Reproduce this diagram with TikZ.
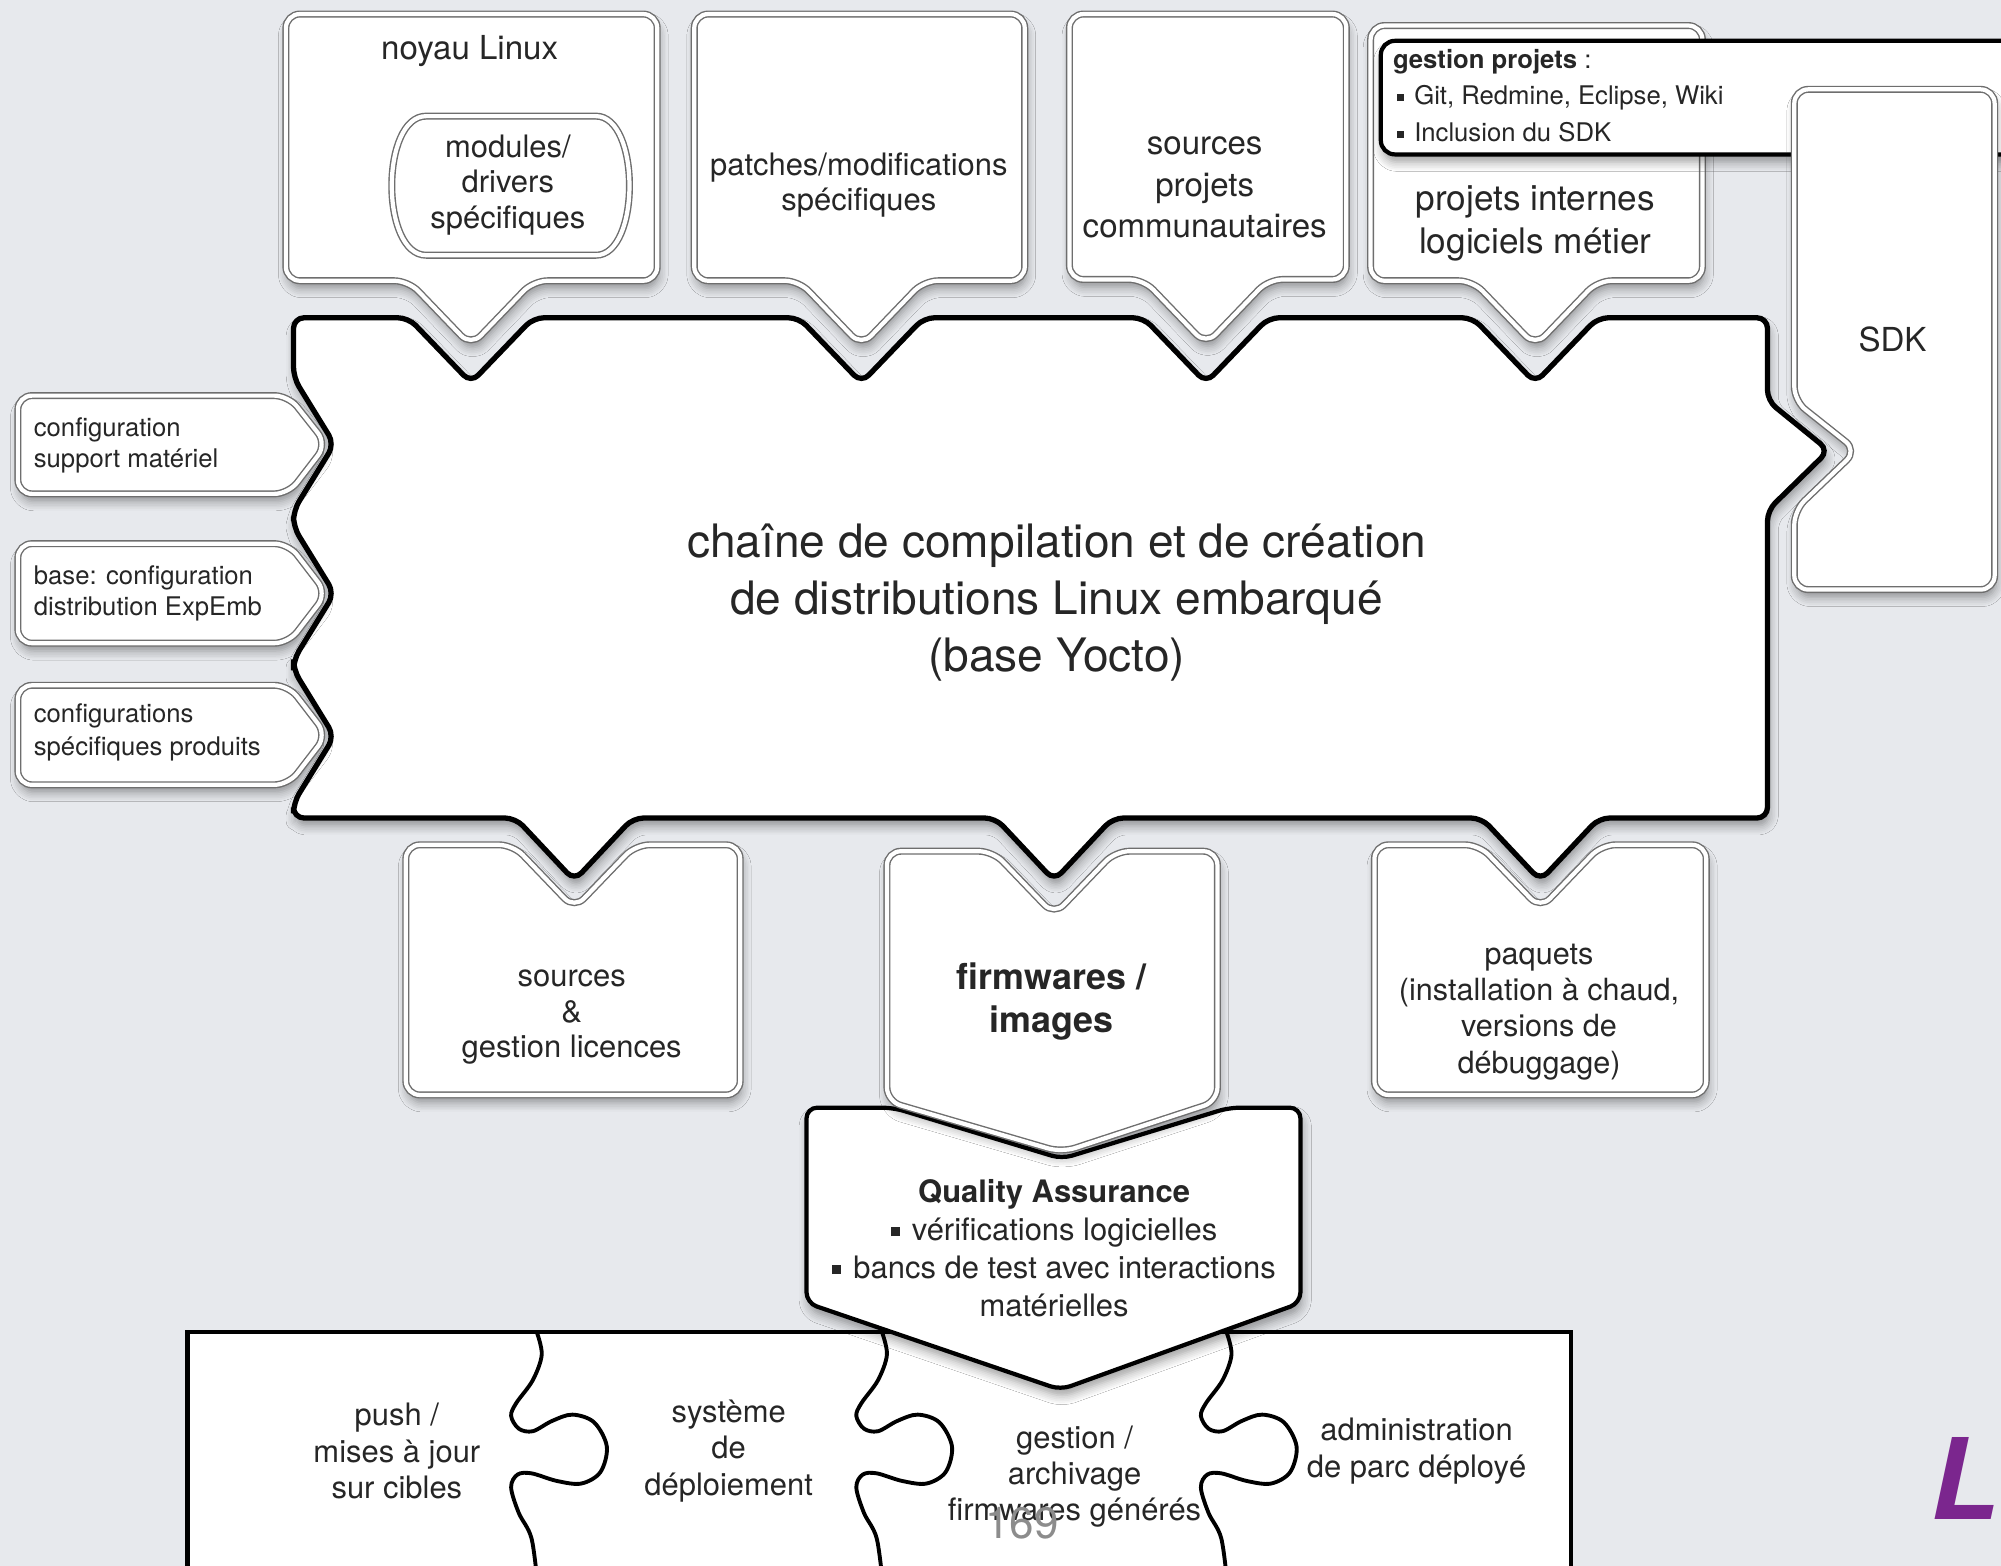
\documentclass[tikz,border=0pt]{standalone}
\usepackage{fontspec}
\setmainfont{TeX Gyre Heros}
\usetikzlibrary{shadows.blur}
\definecolor{bgpage}{RGB}{231,233,237}
\definecolor{rimgray}{RGB}{110,110,110}
\definecolor{slidepurple}{RGB}{123,38,142}
\newcommand{\sqbul}{\rule[0.14em]{0.28em}{0.28em}\hspace{0.4em}}
\newcommand{\fsz}[2]{\fontsize{#1}{#2}\selectfont}

\begin{document}
\begin{tikzpicture}[x=0.012762cm,y=-0.012762cm,
  softshadow/.style={blur shadow={shadow xshift=0.5pt,shadow yshift=-2.2pt,
      shadow blur radius=2.6pt,shadow blur steps=6,shadow opacity=38}},
  rim/.style={fill=white,draw=rimgray,line width=0.4pt,double=white,
      double distance=1.2pt,rounded corners=4pt},
  bubble/.style={rim,softshadow},
  hub/.style={fill=white,draw=black,line width=1.5pt,rounded corners=3pt,softshadow},
  inkbox/.style={fill=white,draw=black,line width=1.2pt,rounded corners=4pt,softshadow},
  puzline/.style={draw=black,line width=1.1pt,line join=round},
  lbl/.style={inner sep=0pt,align=center,text=black!85},
  lblw/.style={inner sep=0pt,align=left,anchor=west,text=black!85},
  puzzlecut/.pic={\draw[puzline] plot[smooth,tension=0.55] coordinates {
      (0,0) (4,18) (-3,38) (-16,56) (-20,66) (-14,76) (-3,78) (12,70) (28,65)
      (45,71) (55,90) (50,110) (35,119) (16,117) (-4,111) (-15,112) (-20,122)
      (-14,142) (-4,162) (1,200)};}
]
\useasboundingbox (0,0) rectangle (1568,1227);
\clip (0,0) rectangle (1568,1227);
\fill[bgpage] (0,0) rectangle (1568,1227);

% central build chain
\path[hub] (520,249) -- (626,249) -- (675,300) -- (724,249) -- (896,249) -- (945,300)
  -- (994,249) -- (1154,249) -- (1203,300) -- (1252,249) -- (1385,249) -- (1385,314)
  -- (1433,353) -- (1385,400) -- (1385,641) -- (1253,641) -- (1207,690) -- (1161,641)
  -- (872,641) -- (826,690) -- (780,641) -- (496,641) -- (450,690) -- (404,641)
  -- (230,641) -- (230,629) -- (262,577) -- (230,525) -- (230,517) -- (262,465)
  -- (230,413) -- (230,400) -- (262,348) -- (230,296) -- (230,249) -- (320,249)
  -- (369,300) -- (418,249) -- cycle;

% inputs on top
\path[bubble] (370,11) -- (515,11) -- (515,220) -- (418,220) -- (369,271) -- (320,220)
  -- (224,220) -- (224,11) -- cycle;
\path[rim,sharp corners] (334,91) -- (467,91) .. controls (502,91) and (502,200) .. (467,200)
  -- (334,200) .. controls (298,200) and (298,91) .. (334,91) -- cycle;
\path[bubble] (675,11) -- (803,11) -- (803,220) -- (724,220) -- (675,271) -- (626,220)
  -- (544,220) -- (544,11) -- cycle;
\path[bubble] (945,11) -- (1055,11) -- (1055,219) -- (994,219) -- (945,270) -- (896,219)
  -- (838,219) -- (838,11) -- cycle;
\path[bubble] (1203,20) -- (1334,20) -- (1334,220) -- (1252,220) -- (1203,271) -- (1154,220)
  -- (1074,220) -- (1074,20) -- cycle;

% project management and SDK
\path[inkbox] (1082,32) rectangle (1640,121);
\path[bubble] (1485,70) -- (1563,70) -- (1563,462) -- (1406,462) -- (1406,400) -- (1455,353)
  -- (1406,314) -- (1406,70) -- cycle;

% configuration inputs on the left
\path[bubble] (120,310) -- (226,310) -- (256,348) -- (226,387) -- (14,387) -- (14,310) -- cycle;
\path[bubble] (120,426) -- (226,426) -- (256,465) -- (226,504) -- (14,504) -- (14,426) -- cycle;
\path[bubble] (120,537) -- (226,537) -- (256,576) -- (226,615) -- (14,615) -- (14,537) -- cycle;

% outputs
\path[bubble] (350,662) -- (402,662) -- (450,712) -- (498,662) -- (580,662) -- (580,858)
  -- (318,858) -- (318,662) -- cycle;
\path[bubble] (1120,662) -- (1159,662) -- (1207,712) -- (1255,662) -- (1337,662) -- (1337,858)
  -- (1077,858) -- (1077,662) -- cycle;

% deployment puzzle
\path[fill=white,draw=black,line width=1.2pt] (147,1044) rectangle (1231,1262);
\pic at (420.5,1043.5) {puzzlecut};
\pic at (691,1043.5) {puzzlecut};
\pic at (961,1043.5) {puzzlecut};

% quality assurance and firmware images
\path[inkbox,rounded corners=3pt] (632,940) -- (632,868) -- (700,868) -- (832,908) -- (963,868)
  -- (1019,868) -- (1019,1021) -- (831,1089) -- (632,1021) -- cycle;
\path[bubble] (740,667) -- (778,667) -- (826,717) -- (874,667) -- (954,667) -- (954,863)
  -- (832,903) -- (695,863) -- (695,667) -- cycle;

% labels
\node[lbl,font=\fsz{9.4}{11}] (noyauT) at (368,40) {noyau Linux};
\node[lbl,font=\fsz{8.8}{10.2}] (modT) at (398,145) {modules/\\drivers\\spécifiques};
\node[lbl,font=\fsz{8.8}{10.2}] (patchT) at (673,145) {patches/modifications\\spécifiques};
\node[lbl,font=\fsz{9.4}{11.8}] (commT) at (944,147) {sources\\projets\\communautaires};
\node[lbl,font=\fsz{10}{12.3}] (internT) at (1203,175) {projets internes\\logiciels métier};
\node[lblw,anchor=base west,font=\fsz{7.3}{8.5}] (gestT) at (1091,54) {\textbf{gestion projets} :};
\node[lblw,anchor=base west,font=\fsz{7.3}{8.5}] (gitT) at (1094,82) {\sqbul Git, Redmine, Eclipse, Wiki};
\node[lblw,anchor=base west,font=\fsz{7.3}{8.5}] (incT) at (1094,111) {\sqbul Inclusion du SDK};
\node[lbl,font=\fsz{9.4}{11}] (sdkT) at (1483,266) {SDK};
\node[lbl,font=\fsz{13.1}{16.2}] (hubT) at (828,472)
  {chaîne de compilation et de création\\de distributions Linux embarqué\\(base Yocto)};
\node[lblw,font=\fsz{7.3}{8.9}] (cfgA) at (26,349) {configuration\\support matériel};
\node[lblw,font=\fsz{7.3}{8.9}] (cfgB) at (26,465) {base: configuration\\distribution ExpEmb};
\node[lblw,font=\fsz{7.3}{9.2}] (cfgC) at (26,574) {configurations\\spécifiques produits};
\node[lbl,font=\fsz{8.8}{10}] (srcT) at (448,797) {sources\\\&\\gestion licences};
\node[lbl,font=\fsz{10.2}{12.3}\bfseries] (fwT) at (824,785) {firmwares /\\images};
\node[lbl,font=\fsz{8.7}{10.3}] (pkgT) at (1206,793)
  {paquets\\(installation à chaud,\\versions de\\débuggage)};
\node[lbl,font=\fsz{8.8}{10.8}] (qaT) at (826,978)
  {\textbf{Quality Assurance}\\\sqbul vérifications logicielles\\\sqbul bancs de test avec interactions\\matérielles};
\node[lbl,font=\fsz{8.8}{10.35}] (pushT) at (311,1137) {push /\\mises à jour\\sur cibles};
\node[lbl,font=\fsz{8.8}{10.35}] (deplT) at (571,1137) {système\\de\\déploiement};
\node[lbl,font=\fsz{8.8}{10.35}] (archT) at (842,1157) {gestion /\\archivage\\firmwares générés};
\node[lbl,font=\fsz{8.8}{10.35}] (adminT) at (1110,1137) {administration\\de parc déployé};

% slide furniture
\node[inner sep=0pt,text=black!45,font=\fsz{12.5}{14}] (pageT) at (801,1194) {169};
\node[inner sep=0pt,anchor=base west,text=slidepurple,font=\fsz{32}{36}\bfseries\itshape]
  (logoT) at (1512,1191) {L};
\end{tikzpicture}
\end{document}
